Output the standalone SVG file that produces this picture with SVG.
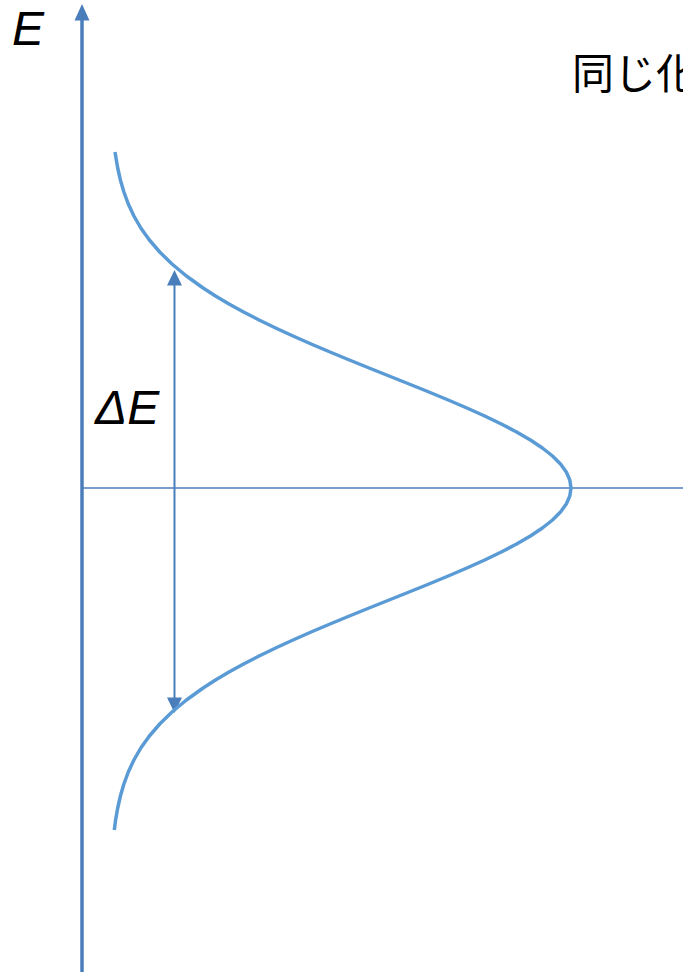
<svg xmlns="http://www.w3.org/2000/svg" width="683" height="972" viewBox="0 0 683 972">
<style>
.axis{stroke:#4a7ebb;fill:none}
.head{fill:#4a7ebb;stroke:none}
.curve{stroke:#5b9bd5;stroke-width:3.5;fill:none;stroke-linejoin:round;stroke-linecap:butt}
.lbl{font-family:"Liberation Sans",Arial,sans-serif;font-style:italic;font-size:48px;fill:#000}
.jp{font-family:"Noto Sans CJK JP","Noto Sans CJK SC",sans-serif;font-size:42px;fill:#000}
</style>
<rect width="683" height="972" fill="#ffffff"/>
<g id="connectors">
  <g id="energy-axis">
    <line class="axis" x1="82" y1="972" x2="82" y2="18" stroke-width="3.5"/>
    <polygon class="head" points="82,4 74.5,20.5 89.5,20.5"/>
  </g>
  <line id="zero-line" class="axis" x1="82" y1="488" x2="683" y2="488" stroke-width="1.6"/>
  <g id="delta-e-arrow">
    <line class="axis" x1="174.5" y1="284" x2="174.5" y2="699" stroke-width="2"/>
    <polygon class="head" points="174.5,270 167,285.5 182,285.5"/>
    <polygon class="head" points="174.5,713 167,697.5 182,697.5"/>
  </g>
</g>
<g id="distribution-curve">
  <path class="curve" d="M115,152 L117.7,168 L120.4,180 L123.9,192 L128.3,204 L133.9,216 L140.8,228 L149.4,240 L159.7,252 L172,264 L186.4,276 L203.1,288 L215.5,296 L229,304 L243.6,312 L259.1,320 L275.6,328 L293,336 L311.1,344 L330,352 L349.4,360 L369.1,368 L389.1,376 L409.1,384 L428.9,392 L448.2,400 L466.9,408 L484.7,416 L501.3,424 L516.6,432 L530.4,440 L542.4,448 L552.5,456 L560.5,464 L566.3,472 L569.8,480 L571,488 L569.8,496 L566.3,504 L560.5,512 L552.5,520 L542.4,528 L530.4,536 L516.6,544 L501.3,552 L484.7,560 L466.9,568 L448.2,576 L428.9,584 L409.1,592 L389.1,600 L369.1,608 L349.4,616 L330,624 L311.1,632 L293,640 L275.6,648 L259.1,656 L243.6,664 L229,672 L215.5,680 L203.1,688 L186.4,700 L172,712 L159.7,724 L149.4,736 L140.8,748 L133.9,760 L128.3,772 L123.9,784 L120.4,796 L117.7,808 L115.6,820 L114.3,830"/>
</g>
<g id="label-E">
  <text class="lbl" x="12" y="45">E</text>
</g>
<g id="label-deltaE">
  <text class="lbl" x="95" y="424">ΔE</text>
</g>
<g id="label-title">
  <text class="jp" x="572" y="89">同じ化</text>
</g>
</svg>
